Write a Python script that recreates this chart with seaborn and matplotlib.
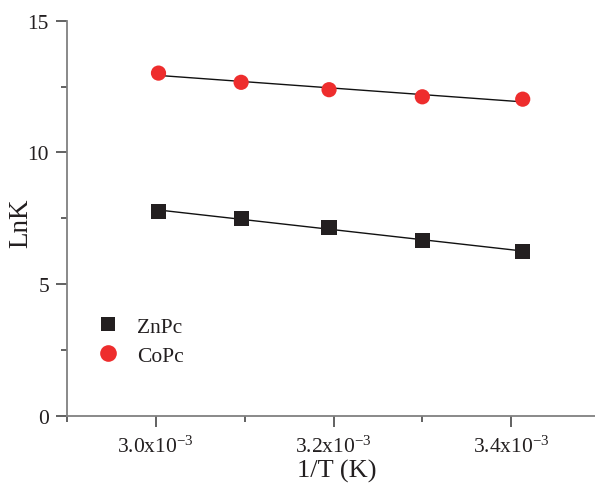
import matplotlib
matplotlib.use("Agg")
import matplotlib.pyplot as plt
from matplotlib.ticker import MultipleLocator
import numpy as np
import pandas as pd
import seaborn as sns

# 1/T values (K^-1) for 333, 323, 313, 303, 293 K
inv_T = [3.003e-3, 3.096e-3, 3.195e-3, 3.300e-3, 3.413e-3]
lnk_znpc = [7.75, 7.50, 7.15, 6.66, 6.23]
lnk_copc = [13.01, 12.66, 12.38, 12.11, 12.02]

series_names = ["ZnPc", "CoPc"]
series_colors = ["#231f20", "#ee2d2d"]
series_markers = ["s", "o"]

xtick_values = [3.0e-3, 3.2e-3, 3.4e-3]
xtick_labels = [r"3.0x10$^{-3}$", r"3.2x10$^{-3}$", r"3.4x10$^{-3}$"]
ytick_values = [0, 5, 10, 15]

df = pd.DataFrame({
    "x": inv_T * 2,
    "y": lnk_znpc + lnk_copc,
    "sample": ["ZnPc"] * len(inv_T) + ["CoPc"] * len(inv_T),
})

sns.set_theme(style="ticks")
plt.rcParams["font.family"] = ["Liberation Serif", "DejaVu Serif"]
plt.rcParams["mathtext.fontset"] = "custom"
plt.rcParams["mathtext.rm"] = "Liberation Serif"
plt.rcParams["mathtext.it"] = "Liberation Serif:italic"
plt.rcParams["mathtext.bf"] = "Liberation Serif:bold"

W, H = 595, 485
x0, y0, y15, xr = 67, 416.7, 21.7, 600
fig = plt.figure(figsize=(W / 100, H / 100), dpi=100)
ax = fig.add_axes([x0 / W, (H - y0) / H, (xr - x0) / W, (y0 - y15) / H])

# linear fits through each series
for name in series_names:
    sub = df[df["sample"] == name]
    sns.regplot(data=sub, x="x", y="y", ax=ax, scatter=False, ci=None,
                truncate=True, line_kws={"lw": 1.0, "color": "#111111"})

sns.scatterplot(data=df, x="x", y="y", hue="sample", style="sample",
                hue_order=series_names, style_order=series_names,
                palette=dict(zip(series_names, series_colors)),
                markers=dict(zip(series_names, series_markers)),
                s=120, linewidth=0, ax=ax, zorder=3, legend=False)

ax.set_xlim(2.9e-3, 3.5e-3)
ax.set_ylim(0, 15)
ax.set_xticks(xtick_values)
ax.set_xticklabels(xtick_labels)
ax.xaxis.set_minor_locator(MultipleLocator(0.1e-3))
ax.set_yticks(ytick_values)
ax.yaxis.set_minor_locator(MultipleLocator(2.5))

for side in ["top", "right"]:
    ax.spines[side].set_visible(False)
for side in ["left", "bottom"]:
    ax.spines[side].set_color("#808080")
    ax.spines[side].set_linewidth(1.3)

ax.tick_params(which="major", direction="out", length=8, width=1.3,
               color="#555555", labelsize=15.5, labelcolor="#231f20")
ax.tick_params(axis="x", which="major", pad=6)
ax.tick_params(axis="y", which="major", pad=5)
ax.tick_params(which="minor", direction="out", length=4, width=1.3, color="#555555")

ax.set_xlabel("1/T (K)", fontsize=19, color="#231f20")
ax.set_ylabel("LnK", fontsize=19.5, color="#231f20")
ax.xaxis.label.set_va("center")
ax.yaxis.label.set_va("center")
aw, ah = xr - x0, y0 - y15
ax.xaxis.set_label_coords((337 - x0) / aw, (y0 - 471) / ah)
ax.yaxis.set_label_coords((21 - x0) / aw, (y0 - 223) / ah)

# legend
handles = [
    plt.Line2D([], [], linestyle="none", marker=m, color=c, markersize=ms, markeredgewidth=0)
    for m, c, ms in zip(series_markers, series_colors, [10, 12])
]
ax.legend(handles, series_names, loc="upper left", bbox_to_anchor=(0.04, 0.272),
          frameon=False, fontsize=15.5, handletextpad=0.85, labelspacing=0.4,
          borderaxespad=0, handlelength=1.0, labelcolor="#231f20")

fig.savefig("out.png", dpi=100)
